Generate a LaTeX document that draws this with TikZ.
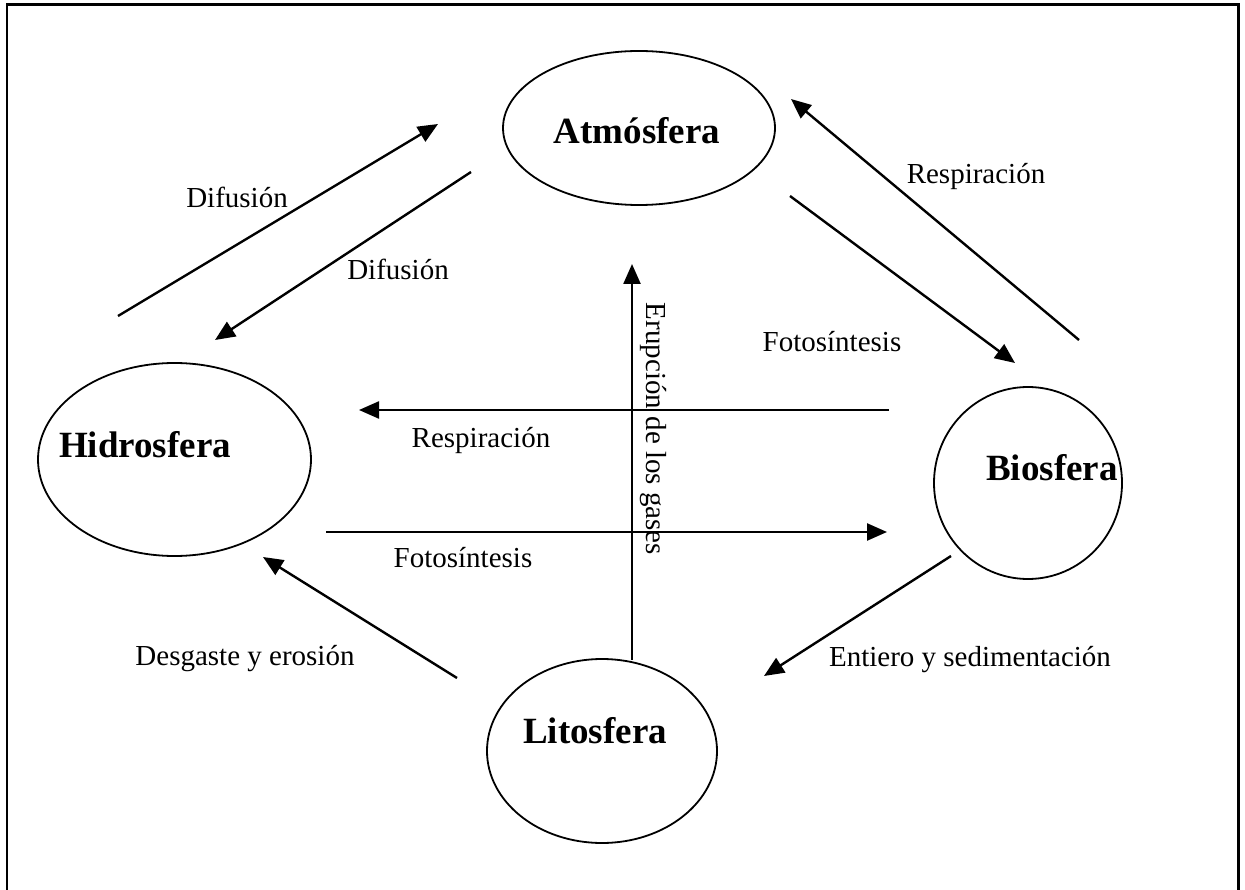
\documentclass[tikz,border=0pt]{standalone}
\usepackage{fontspec}
\setmainfont{Liberation Serif}
\usetikzlibrary{arrows.meta,shapes.geometric}
\begin{document}
\begin{tikzpicture}[x=1pt,y=-1pt,
  sphere/.style={draw,ellipse,line width=1.8pt,inner sep=0pt},
  title/.style={anchor=base,inner sep=0pt,font=\fontsize{37}{44}\selectfont\bfseries},
  lbl/.style={anchor=base,inner sep=0pt,font=\fontsize{29}{35}\selectfont},
  flow/.style={line width=2.4pt,-{Triangle[length=20pt,width=17pt]}}]
\useasboundingbox (0,0) rectangle (1245,890);
\draw[line width=2.5pt] (7,895) -- (7,4.5) -- (1238.5,4.5) -- (1238.5,895);

% spheres
\node[sphere,minimum width=272pt,minimum height=154pt] (atm) at (639,128) {};
\node[sphere,minimum width=273pt,minimum height=193pt] (hid) at (174.5,459.5) {};
\node[sphere,minimum width=188pt,minimum height=192pt] (bio) at (1028,483) {};
\node[sphere,minimum width=230pt,minimum height=184pt] (lit) at (602,751) {};

\node[title] (atmT) at (637,144) {Atmósfera};
\node[title] (hidT) at (145,457) {Hidrosfera};
\node[title] (bioT) at (1052,480) {Biosfera};
\node[title] (litT) at (595,743) {Litosfera};

% arrow end points
\coordinate (d1s) at (118,316);  \coordinate (d1e) at (438,124);
\coordinate (d2s) at (471,172);  \coordinate (d2e) at (215,340);
\coordinate (r1s) at (1079,340); \coordinate (r1e) at (791,99);
\coordinate (f1s) at (790,196);  \coordinate (f1e) at (1015,363);
\coordinate (r2s) at (889,410);  \coordinate (r2e) at (359,410);
\coordinate (f2s) at (326,532);  \coordinate (f2e) at (887,532);
\coordinate (es)  at (632,660);  \coordinate (ee)  at (632,264);
\coordinate (ss)  at (951,556);  \coordinate (se)  at (764,676);
\coordinate (ds)  at (457,678);  \coordinate (de)  at (263,557);

\draw[flow] (d1s) -- (d1e);
\draw[flow] (d2s) -- (d2e);
\draw[flow] (r1s) -- (r1e);
\draw[flow] (f1s) -- (f1e);
\draw[flow] (r2s) -- (r2e);
\draw[flow] (f2s) -- (f2e);
\draw[flow] (es) -- (ee);
\draw[flow] (ss) -- (se);
\draw[flow] (ds) -- (de);

% labels
\node[lbl] (l1) at (237,208) {Difusión};
\node[lbl] (l2) at (398,280) {Difusión};
\node[lbl] (l3) at (976,184) {Respiración};
\node[lbl] (l4) at (832,352) {Fotosíntesis};
\node[lbl] (l5) at (481,447) {Respiración};
\node[lbl] (l6) at (463,567) {Fotosíntesis};
\node[lbl] (l7) at (245,665) {Desgaste y erosión};
\node[lbl] (l8) at (970,666) {Entiero y sedimentación};
\node[anchor=center,inner sep=0pt,font=\fontsize{29}{35}\selectfont,rotate=-90] (l9) at (653,429) {Erupción de los gases};
\end{tikzpicture}
\end{document}
